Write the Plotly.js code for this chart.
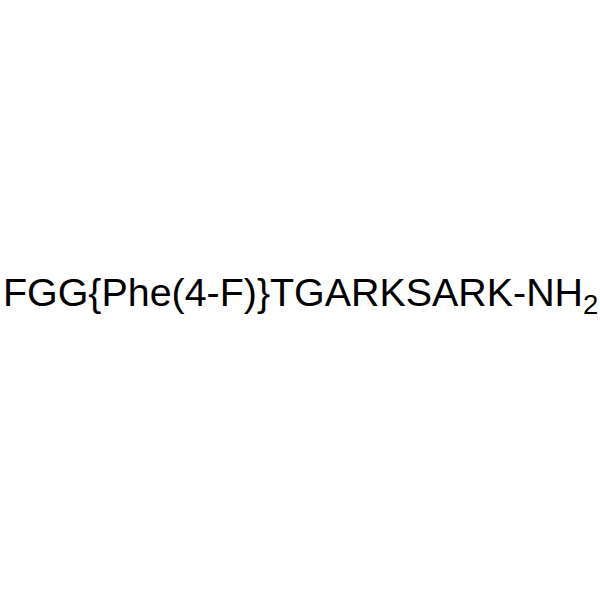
<!DOCTYPE html>
<html>
<head>
<meta charset="utf-8">
<script src="https://cdn.plot.ly/plotly-3.0.1.min.js"></script>
<style>
  html, body { margin: 0; padding: 0; background: #fff; }
  #chart { width: 600px; height: 600px; }
</style>
</head>
<body>
<div id="chart"></div>
<script>
// peptide label drawn on an empty canvas
const labelText = 'FGG{Phe(4-F)}TGARKSARK-NH<sub>2</sub>';
const labelX = [0.5];
const labelY = [0.508];

const layout = {
    width: 600,
    height: 600,
    margin: { l: 0, r: 0, t: 0, b: 0, pad: 0 },
    paper_bgcolor: '#ffffff',
    plot_bgcolor: '#ffffff',
    showlegend: false,
    xaxis: { visible: false, range: [0, 1] },
    yaxis: { visible: false, range: [0, 1] },
    annotations: [{
        text: labelText,
        x: labelX[0],
        y: labelY[0],
        xref: 'paper',
        yref: 'paper',
        xanchor: 'center',
        yanchor: 'middle',
        showarrow: false,
        font: { family: 'Liberation Sans, Arial, sans-serif', size: 39.4, color: '#000000' }
    }]
};
const config = { displayModeBar: false, staticPlot: true };

Plotly.newPlot('chart', [], layout, config);
</script>
</body>
</html>
